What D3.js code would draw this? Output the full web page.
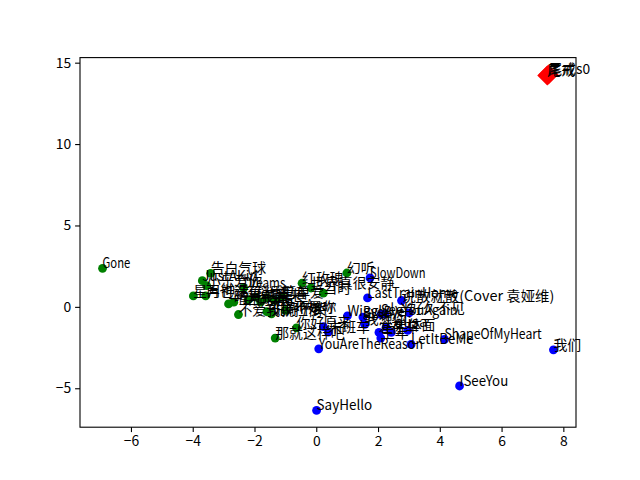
<!DOCTYPE html>
<html><head><meta charset="utf-8">
<script src="https://cdn.jsdelivr.net/npm/d3@7"></script>
<style>body{margin:0;background:#fff}</style>
</head><body>
<svg id="c" width="640" height="480"></svg>
<script>
const greenNames = ["Gone","告白气球","JustAKid","小乐爱你","Dreams","星月神话","再也没有","一路向北","晴天","不爱我就拉倒","青花瓷","稻香","夜曲","七里香","后来","简单爱","当时","RunAway","说好不哭","可惜不是你","红玫瑰","世界真很安静","幻听","你好","那就这样吧"];
const greenX = [-6.92,-3.42,-3.69,-3.55,-2.35,-3.98,-3.58,-2.84,-2.67,-2.52,-2.2,-1.95,-1.8,-1.6,-1.35,-1.1,0.23,-1.0,-1.45,-1.6,-0.46,-0.17,0.99,-0.64,-1.33];
const greenY = [2.37,2.06,1.61,1.3,1.16,0.67,0.67,0.18,0.29,-0.47,0.45,0.6,0.3,0.55,0.4,0.6,0.84,-0.22,-0.43,-0.3,1.45,1.16,2.08,-1.29,-1.92];

const blueNames = ["SlowDown","LastTrainHome","说散就散(Cover 袁娅维)","好久不见","Wiggly","ByeBye","小半","SeeYouAgain","我想你","原来","末班车","左手","Lalisa","在车","生年","体面","LetItBeMe","ShapeOfMyHeart","YouAreTheReason","我们","ISeeYou","SayHello"];
const blueX = [1.74,1.66,2.76,3.01,1.01,1.51,2.23,2.1,1.57,0.23,0.39,2.03,2.26,2.43,2.09,2.96,3.07,4.15,0.08,7.68,4.64,0.01];
const blueY = [1.78,0.55,0.39,-0.37,-0.55,-0.63,-0.43,-0.47,-1.08,-1.21,-1.55,-1.57,-1.25,-1.57,-1.92,-1.45,-2.31,-2.0,-2.58,-2.64,-4.86,-6.36];

const redNames = ["尾戒","尾戒s0"];
const redX = [7.48,7.52];
const redY = [14.22,14.28];

const xTicks = [-6,-4,-2,0,2,4,6,8];
const yTicks = [-5,0,5,10,15];

const L=80, R=576, T=57.6, B=427.2;
const FS = 13.9;
const allX = greenX.concat(blueX, redX), allY = greenY.concat(blueY, redY);
const xmin=d3.min(allX), xmax=d3.max(allX), ymin=d3.min(allY), ymax=d3.max(allY);
const mx=(xmax-xmin)*0.05, my=(ymax-ymin)*0.05;
const x = d3.scaleLinear().domain([xmin-mx, xmax+mx]).range([L,R]);
const y = d3.scaleLinear().domain([ymin-my, ymax+my]).range([B,T]);

const svg = d3.select("#c");
const font = "'Noto Sans CJK SC', 'DejaVu Sans', sans-serif";

function pts(X,Y){return X.map((v,i)=>({x:v,y:Y[i]}));}
// SimHei-like metrics: full-width CJK, half-width Latin
function textW(s){let w=0;for(const ch of s){w+= ch.charCodeAt(0)>0x2e80 ? FS : FS/2;}return w;}

svg.append("g").selectAll("circle").data(pts(greenX,greenY)).join("circle")
  .attr("cx",d=>x(d.x)).attr("cy",d=>y(d.y)).attr("r",4.4).attr("fill","green");
svg.append("g").selectAll("circle").data(pts(blueX,blueY)).join("circle")
  .attr("cx",d=>x(d.x)).attr("cy",d=>y(d.y)).attr("r",4.4).attr("fill","blue");
svg.append("g").selectAll("path").data(pts(redX,redY)).join("path")
  .attr("d",d3.symbol().type(d3.symbolSquare).size(200))
  .attr("transform",d=>`translate(${x(d.x)},${y(d.y)}) rotate(45)`).attr("fill","red");

const labels = [];
greenNames.forEach((n,i)=>labels.push({n,x:greenX[i],y:greenY[i]}));
blueNames.forEach((n,i)=>labels.push({n,x:blueX[i],y:blueY[i]}));
redNames.forEach((n,i)=>labels.push({n,x:redX[i],y:redY[i]}));
svg.append("g").selectAll("text").data(labels).join("text")
  .attr("x",d=>x(d.x)).attr("y",d=>y(d.y))
  .attr("font-family",font).attr("font-size",FS).attr("fill","black")
  .attr("textLength",d=>textW(d.n)).attr("lengthAdjust","spacingAndGlyphs")
  .text(d=>d.n);

const xa = svg.append("g").attr("transform",`translate(0,${B})`)
  .call(d3.axisBottom(x).tickValues(xTicks).tickSize(4.9).tickPadding(4).tickFormat(d3.format("d")));
const ya = svg.append("g").attr("transform",`translate(${L},0)`)
  .call(d3.axisLeft(y).tickValues(yTicks).tickSize(4.9).tickPadding(4).tickFormat(d3.format("d")));
[xa,ya].forEach(a=>{
  a.selectAll("text").attr("font-family",font).attr("font-size",FS).attr("fill","black");
  a.selectAll("line").attr("stroke","black").attr("stroke-width",1.1);
  a.select(".domain").remove();
});
svg.append("rect").attr("x",L).attr("y",T).attr("width",R-L).attr("height",B-T)
  .attr("fill","none").attr("stroke","black").attr("stroke-width",1.1);
</script>
</body></html>
